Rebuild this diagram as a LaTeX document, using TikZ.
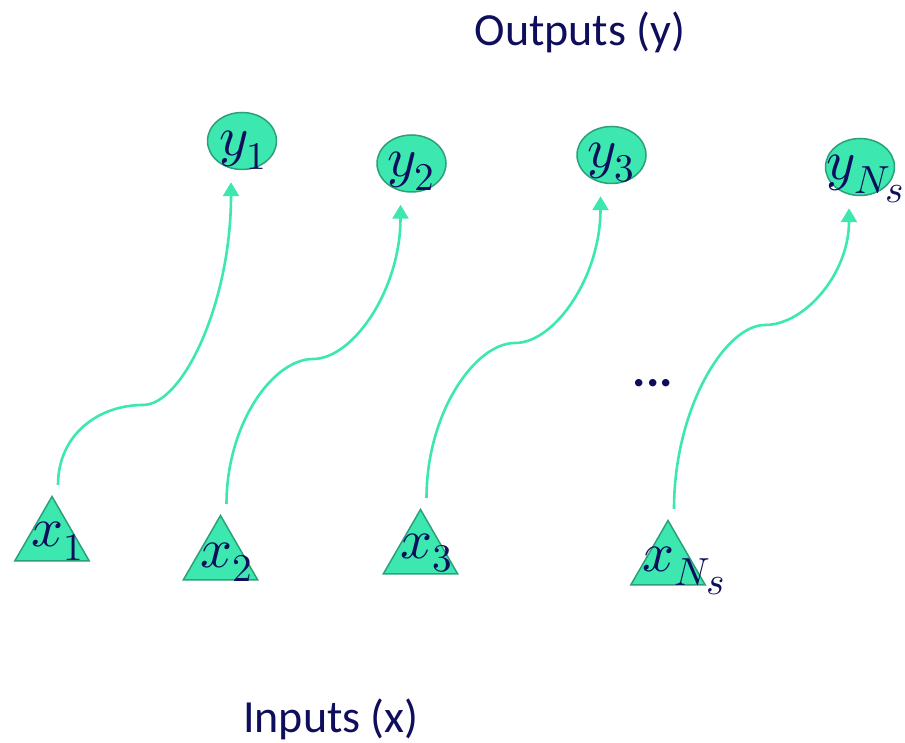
\documentclass[tikz,border=0pt]{standalone}
\usepackage{fontspec}
\setmainfont{Carlito}
\usepackage{unicode-math}
\setmathfont{Latin Modern Math}
\usetikzlibrary{shapes.geometric,arrows.meta}

\definecolor{mint}{RGB}{60,232,176}
\definecolor{mintedge}{RGB}{44,160,120}
\definecolor{navy}{RGB}{14,14,92}

\tikzset{
  outnode/.style={ellipse, draw=mintedge, fill=mint, line width=1.5pt,
    minimum width=69pt, minimum height=57pt, inner sep=0pt},
  innode/.style={regular polygon, regular polygon sides=3, draw=mintedge,
    fill=mint, line width=1.5pt, minimum size=86pt, inner sep=0pt},
  sym/.style={text=navy, inner sep=0pt, font=\fontsize{56}{62}\selectfont},
  flow/.style={draw=mint, line width=2.6pt,
    -{Triangle[width=16pt,length=14pt]}},
  caption/.style={text=navy, anchor=base, inner sep=0pt,
    font=\fontsize{46}{55}\selectfont},
}

\begin{document}
\begin{tikzpicture}[x=1pt,y=1pt]
\useasboundingbox (0,0) rectangle (905,743);

% outputs
\node[outnode] (y1) at (242,602) {};
\node[outnode] (y2) at (411.5,579.5) {};
\node[outnode] (y3) at (611.5,588) {};
\node[outnode] (yN) at (860,576) {};
\node[sym] (ly1) at (243,593) {$y_1$};
\node[sym] (ly2) at (411,571.5) {$y_2$};
\node[sym] (ly3) at (611,580.5) {$y_3$};
\node[sym] (lyN) at (866,564) {$y_{N_{\scriptstyle s}}$};

% inputs
\node[innode] (x1) at (52,203.5) {};
\node[innode] (x2) at (220.5,184.5) {};
\node[innode] (x3) at (420.5,190.5) {};
\node[innode] (xN) at (668,179.5) {};
\node[sym] (lx1) at (57.5,202) {$x_1$};
\node[sym] (lx2) at (226.5,181) {$x_2$};
\node[sym] (lx3) at (426.5,190) {$x_3$};
\node[sym] (lxN) at (684,172) {$x_{N_{\scriptstyle s}}$};

% turning points of the connectors
\coordinate (m1) at (143,338);
\coordinate (m2) at (313,384);
\coordinate (m3) at (515,400);
\coordinate (mN) at (765,418);

% connectors
\draw[flow] ([shift={(6,10)}]x1.north)
  to[out=90,in=180,out distance=50pt,in distance=45pt] (m1)
  to[out=0,in=-90,out distance=40pt,in distance=120pt] ([shift={(-11,-12)}]y1.south);
\draw[flow] ([shift={(6,10)}]x2.north)
  to[out=90,in=180,out distance=80pt,in distance=40pt] (m2)
  to[out=0,in=-90,out distance=40pt,in distance=85pt] ([shift={(-11,-12)}]y2.south);
\draw[flow] ([shift={(6,10)}]x3.north)
  to[out=90,in=180,out distance=85pt,in distance=40pt] (m3)
  to[out=0,in=-90,out distance=40pt,in distance=80pt] ([shift={(-11,-12)}]y3.south);
\draw[flow] ([shift={(6,10)}]xN.north)
  to[out=90,in=180,out distance=100pt,in distance=40pt] (mN)
  to[out=0,in=-90,out distance=40pt,in distance=65pt] ([shift={(-11,-12)}]yN.south);

% ellipsis between the third and the last pair
\node[caption, font=\fontsize{50}{55}\selectfont\bfseries] (dots) at (653,356) {...};

% captions
\node[caption] (outcap) at (580,697) {Outputs (y)};
\node[caption] (incap) at (331,10) {Inputs (x)};
\end{tikzpicture}
\end{document}
